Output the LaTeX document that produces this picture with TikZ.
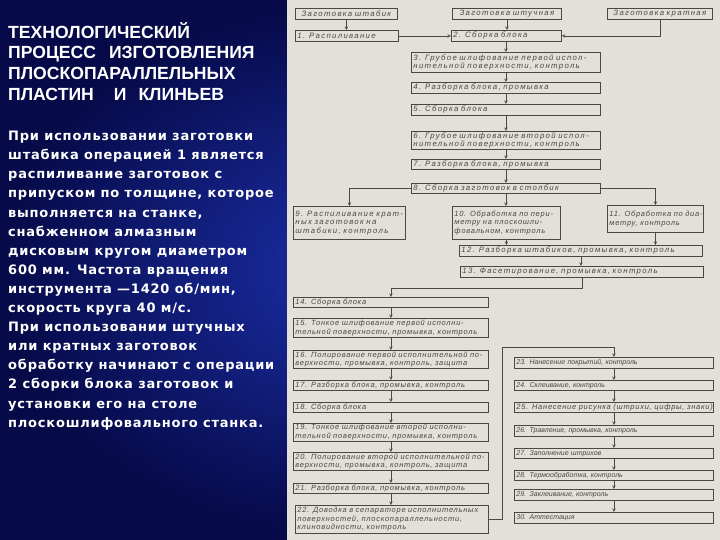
\documentclass[tikz,border=0pt]{standalone}
\usepackage{fontspec}
\setmainfont{Liberation Sans}
\newfontfamily\bodyfont[LetterSpace=6]{DejaVu Sans}
\newfontfamily\scanwide[LetterSpace=17,WordSpace=1.5]{Liberation Sans}
\newfontfamily\scanfont[LetterSpace=10,WordSpace=1.3]{Liberation Sans}
\newfontfamily\scannarrow{Liberation Sans}
\usepackage{xcolor}
\usetikzlibrary{shapes,arrows,positioning,calc}

\definecolor{scanbg}{RGB}{226,224,216}
\definecolor{ink}{RGB}{72,72,72}
\definecolor{slidein}{RGB}{28,48,170}
\definecolor{slideout}{RGB}{6,10,72}

\begin{document}
\begin{tikzpicture}[x=1pt, y=-1pt,
  opbox/.style={draw=ink, line width=0.8pt, rectangle, anchor=north west, inner xsep=2pt, inner ysep=1pt,
    align=left, text=ink, font=\scanfont\itshape\fontsize{7.5}{8.6}\selectfont},
  widebox/.style={opbox, font=\scanwide\itshape\fontsize{7.8}{8.6}\selectfont},
  narrowbox/.style={opbox, font=\scannarrow\itshape\fontsize{7}{8.6}\selectfont},
  srcbox/.style={widebox, align=center},
  ptr/.style={->, >=stealth, ink, line width=0.6pt},
  title/.style={anchor=north west, inner sep=0pt, align=left, text=white, font=\bfseries\fontsize{17.6}{20.8}\selectfont},
  body/.style={anchor=north west, inner sep=0pt, align=left, text=white, font=\bodyfont\bfseries\fontsize{13}{19.1}\selectfont}
]
\useasboundingbox (0,0) rectangle (720,540);
\shade[inner color=slidein, outer color=slideout] (0,0) rectangle (720,540);
\fill[scanbg] (287,0) rectangle (720,540);

% left text
\node[title] (head) at (8,22) {ТЕХНОЛОГИЧЕСКИЙ\\ПРОЦЕСС\hspace{13pt}ИЗГОТОВЛЕНИЯ\\ПЛОСКОПАРАЛЛЕЛЬНЫХ\\ПЛАСТИН\hspace{20pt}И\hspace{12pt}КЛИНЬЕВ};
\node[body] (note) at (8,131) {При использовании заготовки\\штабика операцией 1 является\\распиливание заготовок с\\припуском по толщине, которое\\выполняется на станке,\\снабженном алмазным\\дисковым кругом диаметром\\600 мм. Частота вращения\\инструмента —1420 об/мин,\\скорость круга 40 м/с.\\При использовании штучных\\или кратных заготовок\\обработку начинают с операции\\2 сборки блока заготовок и\\установки его на столе\\плоскошлифовального станка.};

% source blanks
\node[srcbox, text width=98pt, minimum height=11pt] (s1) at (295,8) {Заготовка штабик};
\node[srcbox, text width=105pt, minimum height=11pt] (s2) at (452,8) {Заготовка штучная};
\node[srcbox, text width=101pt, minimum height=11pt] (s3) at (607,8) {Заготовка кратная};

% operations
\node[widebox, text width=99pt, minimum height=11pt] (o1) at (295,30) {1. Распиливание};
\node[widebox, text width=106pt, minimum height=11pt] (o2) at (451,30) {2. Сборка блока};
\node[widebox, text width=185pt, minimum height=20pt] (o3) at (411,52) {\mbox{3. Грубое шлифование первой испол-}\\нительной поверхности, контроль};
\node[widebox, text width=185pt, minimum height=11pt] (o4) at (411,82) {4. Разборка блока, промывка};
\node[widebox, text width=185pt, minimum height=11pt] (o5) at (411,104) {5. Сборка блока};
\node[widebox, text width=185pt, minimum height=18pt] (o6) at (411,131) {\mbox{6. Грубое шлифование второй испол-}\\нительной поверхности, контроль};
\node[widebox, text width=185pt, minimum height=10pt] (o7) at (411,159) {7. Разборка блока, промывка};
\node[widebox, text width=185pt, minimum height=10pt] (o8) at (411,183) {8. Сборка заготовок в столбик};
\node[widebox, text width=108pt, minimum height=33pt] (o9) at (293,206) {\mbox{9. Распиливание крат-}\\ных заготовок на\\штабики, контроль};
\node[opbox, text width=104pt, minimum height=33pt] (o10) at (452,206) {\mbox{10. Обработка по пери-}\\метру на плоскошли-\\фовальном, контроль};
\node[opbox, text width=92pt, minimum height=27pt] (o11) at (607,205) {\mbox{11. Обработка по диа-}\\метру, контроль};
\node[widebox, text width=239pt, minimum height=11pt] (o12) at (459,245) {12. Разборка штабиков, промывка, контроль};
\node[widebox, text width=239pt, minimum height=11pt] (o13) at (460,266) {13. Фасетирование, промывка, контроль};
\node[opbox, text width=191pt, minimum height=10pt] (o14) at (293,297) {14. Сборка блока};
\node[opbox, text width=191pt, minimum height=19pt] (o15) at (293,318) {\mbox{15. Тонкое шлифование первой исполни-}\\\mbox{тельной поверхности, промывка, контроль}};
\node[opbox, text width=191pt, minimum height=18pt] (o16) at (293,350) {\mbox{16. Полирование первой исполнительной по-}\\\mbox{верхности, промывка, контроль, защита}};
\node[opbox, text width=191pt, minimum height=10pt] (o17) at (293,380) {17. Разборка блока, промывка, контроль};
\node[opbox, text width=191pt, minimum height=10pt] (o18) at (293,402) {18. Сборка блока};
\node[opbox, text width=191pt, minimum height=17pt] (o19) at (293,423) {\mbox{19. Тонкое шлифование второй исполни-}\\\mbox{тельной поверхности, промывка, контроль}};
\node[opbox, text width=191pt, minimum height=18pt] (o20) at (293,452) {\mbox{20. Полирование второй исполнительной по-}\\\mbox{верхности, промывка, контроль, защита}};
\node[opbox, text width=191pt, minimum height=10pt] (o21) at (293,483) {21. Разборка блока, промывка, контроль};
\node[opbox, text width=189pt, minimum height=28pt] (o22) at (295,505) {\mbox{22. Доводка в сепараторе исполнительных}\\поверхностей, плоскопараллельности,\\клиновидности, контроль};
\node[narrowbox, text width=195pt, minimum height=11pt] (o23) at (514,357) {23. Нанесение покрытий, контроль};
\node[narrowbox, text width=195pt, minimum height=10pt] (o24) at (514,380) {24. Склеивание, контроль};
\node[opbox, text width=195pt, minimum height=10pt] (o25) at (514,402) {\mbox{25. Нанесение рисунка (штрихи, цифры, знаки)}};
\node[narrowbox, text width=195pt, minimum height=11pt] (o26) at (514,425) {26. Травление, промывка, контроль};
\node[narrowbox, text width=195pt, minimum height=10pt] (o27) at (514,448) {27. Заполнение штрихов};
\node[narrowbox, text width=195pt, minimum height=10pt] (o28) at (514,470) {28. Термообработка, контроль};
\node[narrowbox, text width=195pt, minimum height=11pt] (o29) at (514,489) {29. Заклеивание, контроль};
\node[narrowbox, text width=195pt, minimum height=11pt] (o30) at (514,512) {30. Аттестация};
\coordinate (turn) at (502,347);

% connectors
\draw[ptr] (s1.south) -- (s1.south |- o1.north);
\draw[ptr] (s2.south) -- (s2.south |- o2.north);
\draw[ptr] (o1.east) -- (o2.west);
\draw[ptr] (s3.south) |- (o2.east);
\draw[ptr] (o3.north |- o2.south) -- (o3.north);
\draw[ptr] (o3.south) -- (o4.north);
\draw[ptr] (o4.south) -- (o5.north);
\draw[ptr] (o5.south) -- (o6.north);
\draw[ptr] (o6.south) -- (o7.north);
\draw[ptr] (o7.south) -- (o8.north);
\draw[ptr] (o8.west) -| (o9.north);
\draw[ptr] (o8.east) -| (o11.north);
\draw[ptr] (o8.south) -- (o8.south |- o10.north);
\draw[ptr] (o10.south) -- (o10.south |- o12.north);
\draw[ptr] (o11.south) -- (o11.south |- o12.north);
\draw[ptr] (o12.south) -- (o12.south |- o13.north);
\draw[ptr] (o13.south) -- ++(0,10) -| (o14.north);
\draw[ptr] (o14.south) -- (o15.north);
\draw[ptr] (o15.south) -- (o16.north);
\draw[ptr] (o16.south) -- (o17.north);
\draw[ptr] (o17.south) -- (o18.north);
\draw[ptr] (o18.south) -- (o19.north);
\draw[ptr] (o19.south) -- (o20.north);
\draw[ptr] (o20.south) -- (o21.north);
\draw[ptr] (o21.south) -- (o21.south |- o22.north);
\draw[ptr] (o22.east) -| (turn) -| (o23.north);
\draw[ptr] (o23.south) -- (o24.north);
\draw[ptr] (o24.south) -- (o25.north);
\draw[ptr] (o25.south) -- (o26.north);
\draw[ptr] (o26.south) -- (o27.north);
\draw[ptr] (o27.south) -- (o28.north);
\draw[ptr] (o28.south) -- (o29.north);
\draw[ptr] (o29.south) -- (o30.north);
\end{tikzpicture}
\end{document}
